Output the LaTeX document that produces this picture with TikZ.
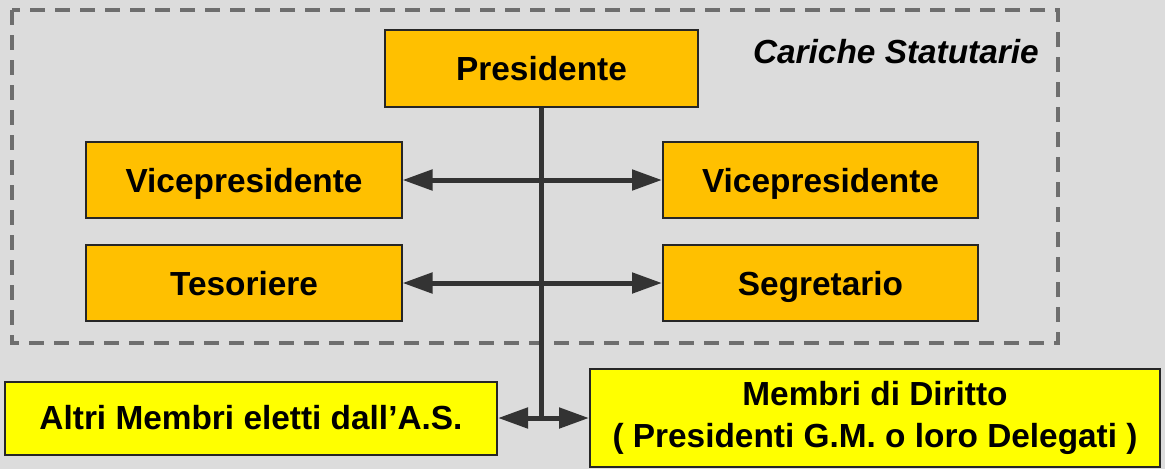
\documentclass[tikz,border=0pt]{standalone}
\usepackage{fontspec}
\setmainfont{Liberation Sans}
\usetikzlibrary{arrows.meta}

\definecolor{sfondo}{HTML}{DCDCDC}
\definecolor{arancio}{HTML}{FFC000}
\definecolor{giallo}{HTML}{FFFF00}
\definecolor{linea}{HTML}{333333}
\definecolor{cornice}{HTML}{6E6E6E}

\begin{document}
\begin{tikzpicture}[x=1mm, y=1mm, node distance=20mm, carica/.style={rectangle, draw=black!85, line width=0.4mm, fill=arancio, minimum width=63mm, minimum height=15.2mm, text height=13.9pt, text depth=0pt, font=\bfseries\fontsize{19}{24}\selectfont}, membro/.style={rectangle, draw=black!85, line width=0.4mm, fill=giallo, align=center, font=\bfseries\fontsize{19}{24}\selectfont}, link/.style={draw=linea, line width=1mm}, biarrow/.style={link, {Triangle[length=6mm, width=4mm]}-{Triangle[length=6mm, width=4mm]}}]

  \fill[sfondo] (0,0) rectangle (233,-93.8);
  \useasboundingbox (0,0) rectangle (233,-93.8);
  \draw[cornice, line width=0.8mm, dash pattern=on 3mm off 2mm] (2.4,-2) rectangle (211.6,-68.6);
  \node[anchor=east, font=\bfseries\itshape\fontsize{19}{24}\selectfont] (titolo) at (209,-10.4) {Cariche Statutarie};

  \node[carica, minimum width=62.6mm, minimum height=15.4mm] (pres) at (108.3,-13.7) {Presidente};
  \node[coordinate, below of=pres, node distance=22.3mm] (asse1) {};
  \node[carica, left of=asse1, node distance=59.5mm] (vpsx) {Vicepresidente};
  \node[carica, right of=asse1, node distance=55.8mm] (vpdx) {Vicepresidente};

  \node[coordinate, below of=asse1, node distance=20.6mm] (asse2) {};
  \node[carica, left of=asse2, node distance=59.5mm] (tes) {Tesoriere};
  \node[carica, right of=asse2, node distance=55.8mm] (seg) {Segretario};

  \node[coordinate, below of=asse2, node distance=27mm] (nodo) {};
  \node[membro, left of=nodo, node distance=58.1mm, minimum width=98.4mm, minimum height=14.6mm] (altri) {Altri Membri eletti dall’A.S.};
  \node[membro, right of=nodo, node distance=66.7mm, minimum width=114mm, minimum height=19.6mm] (diritto) {Membri di Diritto\\( Presidenti G.M. o loro Delegati )};

  \draw[link] (pres) -- (nodo);
  \draw[biarrow] (vpsx) -- (vpdx);
  \draw[biarrow] (tes) -- (seg);
  \draw[link, -{Triangle[length=6mm, width=4mm]}] (nodo) -- (nodo -| altri.east);
  \draw[link, -{Triangle[length=6mm, width=4mm]}] (nodo) -- (nodo -| diritto.west);

\end{tikzpicture}
\end{document}
